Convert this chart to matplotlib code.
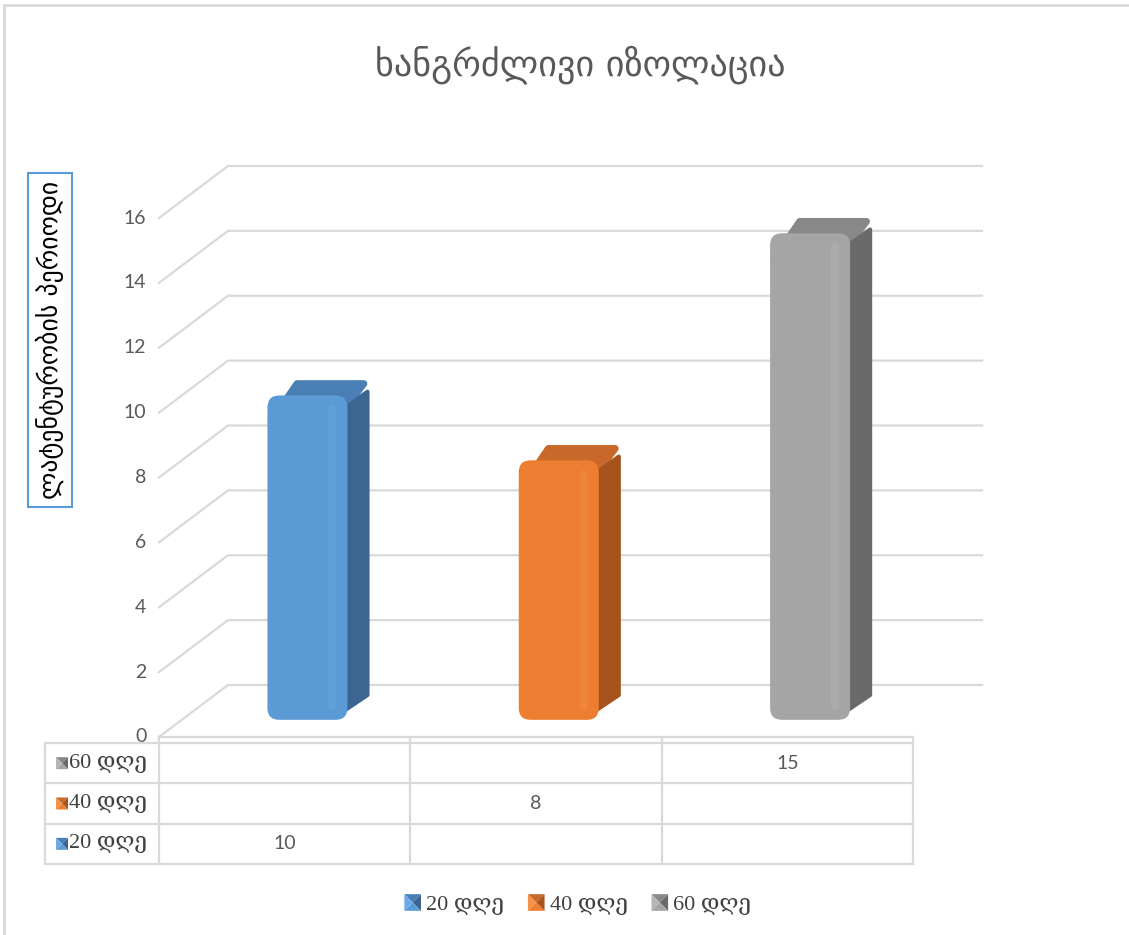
import matplotlib
matplotlib.use("Agg")
import matplotlib.pyplot as plt
from matplotlib.patches import Polygon, FancyBboxPatch, Rectangle, Patch
from matplotlib.legend_handler import HandlerBase

# data
title = "ხანგრძლივი იზოლაცია"
ylabel = "ლატენტურობის პერიოდი"
series = ["20 დღე", "40 დღე", "60 დღე"]
values = [10, 8, 15]
yticks = [0, 2, 4, 6, 8, 10, 12, 14, 16]

# colours: front, top, side, highlight
front_c = ["#5B9BD5", "#ED7D31", "#A5A5A5"]
top_c = ["#4A7FB6", "#C8682A", "#888888"]
side_c = ["#3D6591", "#A6531E", "#6A6A6A"]
hi_c = ["#6AACE6", "#F4924A", "#B5B5B5"]

W, H = 1129, 935
def fx(p): return p / W
def fy(p): return 1 - p / H

serif = ["Liberation Serif", "DejaVu Serif", "DejaVu Sans"]
sans = ["Lato", "DejaVu Sans"]

fig = plt.figure(figsize=(W / 100, H / 100), dpi=100)
fig.patches.append(Rectangle((fx(4), -0.02), 1.1, fy(5) + 0.02, transform=fig.transFigure,
                             fill=False, ec="#D9D9D9", lw=2))

# main axes = front plane of the 3d box
ax = fig.add_axes([fx(159), fy(737), (913 - 159) / W, (737 - 218) / H])
ax.set_xlim(0, 3)
ax.set_ylim(0, 16)
ax.axis("off")

xpx = (913 - 159) / 3.0      # px per category
ypx = (737 - 218) / 16.0     # px per value unit
DX = 69 / xpx                # depth offset in data units
DY = 52 / ypx
grid_c = "#D9D9D9"

for t in yticks:
    ax.plot([0, DX, 3 + DX], [t, t + DY, t + DY], color=grid_c, lw=1.6, clip_on=False, zorder=1)
    ax.text(-0.05, t, str(t), ha="right", va="center", fontsize=14, color="#595959",
            family=sans, clip_on=False)
ax.plot([0, 3], [0, 0], color=grid_c, lw=1.6, clip_on=False, zorder=1)

# bars
bw = 80 / xpx
f0, f1 = 0.33, 0.62
asp = xpx / ypx
r = 12 / xpx
for i, v in enumerate(values):
    c = i + 0.5
    xl = c - bw / 2 + f0 * DX
    xr = c + bw / 2 + f0 * DX
    y0 = f0 * DY
    y1 = v + f0 * DY
    dx = (f1 - f0) * DX
    dy = (f1 - f0) * DY
    top = Polygon([(xl + r * 0.3, y1 - 0.8), (xr - r, y1 - 0.8), (xr + dx - r * 0.3, y1 + dy - 0.1),
                   (xl + dx + r * 0.8, y1 + dy - 0.1)], closed=True, fc=top_c[i], ec=top_c[i], lw=5,
                  joinstyle="round", zorder=3, clip_on=False)
    side = Polygon([(xr - r, y0 + 0.1), (xr + dx, y0 + dy + 0.3), (xr + dx, y1 + dy - 0.35),
                    (xr - r, y1 - 0.6)], closed=True, fc=side_c[i], ec=side_c[i], lw=3,
                   joinstyle="round", zorder=3.5, clip_on=False)
    ax.add_patch(top)
    ax.add_patch(side)
    fr = FancyBboxPatch((xl, y0), bw, v, boxstyle=f"round,pad=0,rounding_size={r}",
                        mutation_aspect=asp, fc=front_c[i], ec="none", zorder=4, clip_on=False)
    ax.add_patch(fr)
    hl = FancyBboxPatch((xl + bw * 0.76, y0 + 0.3), bw * 0.1, v - 0.6,
                        boxstyle=f"round,pad=0,rounding_size={r * 0.4}", mutation_aspect=asp,
                        fc=hi_c[i], ec="none", alpha=0.4, zorder=5, clip_on=False)
    ax.add_patch(hl)

# data table
tl = (45 - 159) / xpx
ax_t = fig.add_axes([fx(45), fy(864), (913 - 45) / W, (864 - 743) / H])
ax_t.set_xlim(tl, 3)
ax_t.set_ylim(0, 3)
ax_t.axis("off")
rowh = (864 - 743) / 3.0
for yy in [0, 1, 2, 3]:
    ax_t.plot([tl, 3], [yy, yy], color=grid_c, lw=1.6, clip_on=False)
ax_t.plot([tl, tl], [0, 3], color=grid_c, lw=1.6, clip_on=False)
for xx in [0, 1, 2, 3]:
    ax_t.plot([xx, xx], [0, 3 + 6 / rowh], color=grid_c, lw=1.6, clip_on=False)

def pyramid(cx, cy, sx, sy, k, **kw):
    x0, x1 = cx - sx / 2, cx + sx / 2
    y0, y1 = cy - sy / 2, cy + sy / 2
    m = (cx, cy)
    tris = [([(x0, y1), (x1, y1), m], top_c[k]),
            ([(x0, y0), (x0, y1), m], hi_c[k]),
            ([(x1, y0), (x1, y1), m], side_c[k]),
            ([(x0, y0), (x1, y0), m], front_c[k])]
    return [Polygon(pts, closed=True, fc=col, ec="none", **kw) for pts, col in tris]

for j, name in enumerate(series):
    yy = j + 0.5
    for p in pyramid(tl + 17 / xpx, yy, 12 / xpx, 12 / rowh, j):
        ax_t.add_patch(p)
    ax_t.text(tl + 24 / xpx, yy, name, ha="left", va="center", fontsize=16, color="#404040",
              family=serif)
    ax_t.text(j + 0.5, yy, str(values[j]), ha="center", va="center", fontsize=14,
              color="#595959", family=sans)

# legend
class PyramidHandler(HandlerBase):
    def create_artists(self, legend, orig_handle, xdescent, ydescent, width, height, fontsize, trans):
        k = orig_handle.series_index
        cx = width / 2 - xdescent
        cy = height / 2 - ydescent
        return pyramid(cx, cy, 12, 12, k, transform=trans)

handles = []
for k in range(3):
    h = Patch(fc=front_c[k])
    h.series_index = k
    handles.append(h)
fig.legend(handles, series, loc="center", bbox_to_anchor=(fx(578), fy(905)), ncol=3,
           frameon=False, handler_map={Patch: PyramidHandler()}, handlelength=0.7,
           handletextpad=0.25, columnspacing=1.1, prop={"family": serif, "size": 16},
           labelcolor="#404040")

# titles
fig.text(fx(580), fy(65), title, ha="center", va="center", fontsize=26, color="#595959",
         family=["DejaVu Sans"])
fig.text(fx(50), fy(340), ylabel, rotation=90, ha="center", va="center", fontsize=18.5,
         color="#000000", family=["DejaVu Sans"],
         bbox=dict(boxstyle="square,pad=0.3", fc="white", ec="#5B9BD5", lw=1.5))

fig.savefig("out.png", dpi=100)
